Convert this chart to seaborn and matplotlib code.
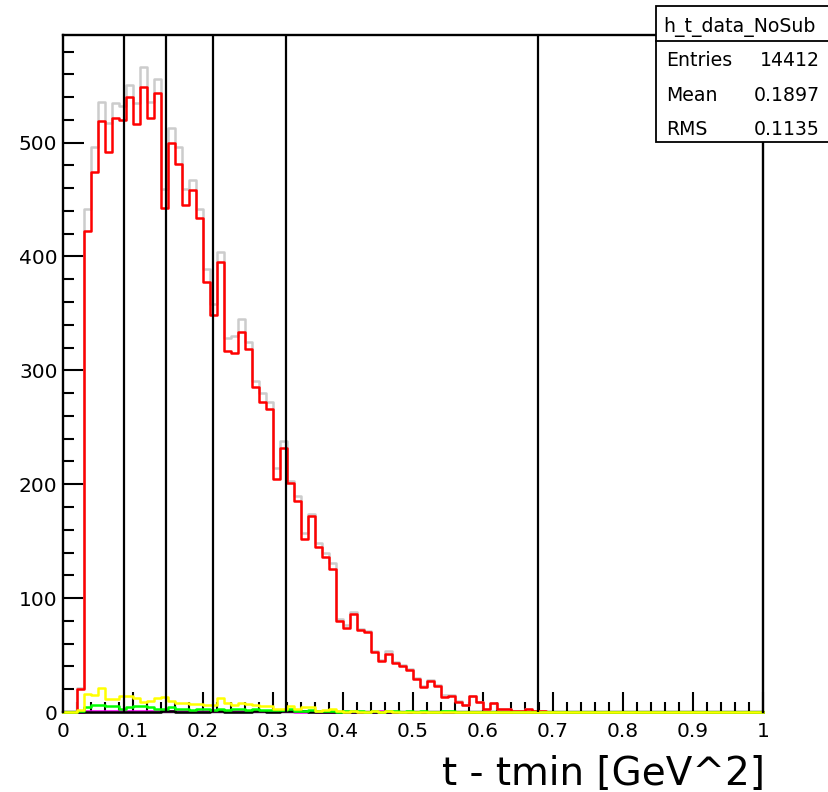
import numpy as np
import pandas as pd
import matplotlib
matplotlib.use("Agg")
import matplotlib.pyplot as plt
from matplotlib.ticker import MultipleLocator, FuncFormatter
from matplotlib.patches import Rectangle
from matplotlib.lines import Line2D
import seaborn as sns

# ---------------- data (100 bins of width 0.01 on [0, 1]) ----------------
bin_edges = [round(v, 2) for v in np.linspace(0.0, 1.0, 101)]
bin_centers = [e + 0.005 for e in bin_edges[:-1]]

data_total = [  # light grey
    0, 0, 21, 442, 496, 536, 517, 535, 532, 551,
    535, 566, 536, 556, 459, 513, 496, 459, 467, 442,
    389, 358, 404, 328, 330, 345, 325, 291, 280, 272,
    214, 238, 203, 190, 157, 174, 148, 140, 131, 82,
    76, 88, 73, 71, 54, 46, 54, 44, 41, 38,
    30, 23, 28, 24, 15, 15, 10, 6, 14, 9,
    3, 8, 3, 3, 1, 1, 3, 1, 1, 0,
    0, 0, 0, 0, 0, 0, 0, 0, 0, 0,
    0, 0, 0, 0, 0, 0, 0, 0, 0, 0,
    0, 0, 0, 0, 0, 0, 0, 0, 0, 0,
]
data_nosub = [  # red
    0, 0, 20, 422, 474, 519, 492, 522, 520, 540,
    516, 549, 522, 544, 443, 500, 481, 445, 458, 434,
    378, 349, 395, 317, 315, 334, 319, 285, 272, 266,
    205, 232, 201, 185, 152, 172, 145, 136, 126, 80,
    74, 86, 72, 70, 53, 45, 51, 43, 40, 37,
    29, 22, 27, 23, 13, 14, 9, 6, 14, 9,
    3, 8, 3, 3, 1, 1, 3, 1, 1, 0,
    0, 0, 0, 0, 0, 0, 0, 0, 0, 0,
    0, 0, 0, 0, 0, 0, 0, 0, 0, 0,
    0, 0, 0, 0, 0, 0, 0, 0, 0, 0,
]
bkg_magenta = [
    0, 0, 0, 1, 1, 1, 1, 1, 1, 1,
    1, 1, 1, 1, 1, 1, 1, 1, 1, 1,
    1, 1, 1, 1, 1, 1, 1, 1, 1, 1,
    1, 1, 1, 0, 0, 1, 0, 0, 0, 0,
    0, 0, 0, 0, 0, 1, 0, 0, 0, 0,
    0, 0, 0, 0, 0, 0, 0, 0, 0, 0,
    0, 0, 0, 0, 0, 0, 0, 0, 0, 0,
    0, 0, 0, 0, 0, 0, 0, 0, 0, 0,
    0, 0, 0, 0, 0, 0, 0, 0, 0, 0,
    0, 0, 0, 0, 0, 0, 0, 0, 0, 0,
]
bkg_black = [
    0, 0, 0, 0, 0, 0, 0, 0, 0, 0,
    0, 0, 0, 0, 1, 1, 0, 0, 0, 0,
    0, 1, 1, 0, 0, 0, 0, 1, 1, 0,
    0, 1, 1, 1, 1, 0, 0, 0, 0, 0,
    0, 0, 0, 0, 0, 0, 0, 0, 0, 0,
    0, 0, 0, 0, 0, 0, 0, 0, 0, 0,
    0, 0, 0, 0, 0, 0, 0, 0, 0, 0,
    0, 0, 0, 0, 0, 0, 0, 0, 0, 0,
    0, 0, 0, 0, 0, 0, 0, 0, 0, 0,
    0, 0, 0, 0, 0, 0, 0, 0, 0, 0,
]
bkg_green = [
    0, 0, 1, 4, 6, 6, 5, 5, 3, 4,
    5, 5, 4, 3, 3, 4, 3, 3, 2, 3,
    3, 2, 3, 2, 3, 3, 2, 3, 2, 2,
    2, 2, 3, 1, 1, 2, 1, 1, 1, 0,
    1, 1, 1, 0, 1, 0, 1, 1, 0, 1,
    0, 1, 0, 0, 1, 1, 0, 0, 0, 0,
    0, 0, 0, 0, 0, 0, 0, 0, 0, 0,
    0, 0, 0, 0, 0, 0, 0, 0, 0, 0,
    0, 0, 0, 0, 0, 0, 0, 0, 0, 0,
    0, 0, 0, 0, 0, 0, 0, 0, 0, 0,
]
bkg_yellow = [
    0, 0, 2, 16, 15, 21, 11, 11, 14, 14,
    12, 9, 10, 12, 13, 10, 8, 8, 7, 7,
    6, 6, 12, 8, 6, 8, 7, 6, 5, 5,
    3, 3, 5, 3, 4, 4, 1, 2, 3, 1,
    0, 1, 0, 0, 1, 0, 1, 0, 0, 0,
    0, 0, 0, 0, 0, 0, 0, 0, 0, 0,
    0, 0, 0, 0, 0, 0, 0, 0, 0, 0,
    0, 0, 0, 0, 0, 0, 0, 0, 0, 0,
    0, 0, 0, 0, 0, 0, 0, 0, 0, 0,
    0, 0, 0, 0, 0, 0, 0, 0, 0, 0,
]

cut_edges = [0.087, 0.147, 0.215, 0.318, 0.678]

x_ticks = [0, 0.1, 0.2, 0.3, 0.4, 0.5, 0.6, 0.7, 0.8, 0.9, 1]
y_ticks = [0, 100, 200, 300, 400, 500]

stats_title = "h_t_data_NoSub"
stats_rows = [("Entries", "14412"), ("Mean", "0.1897"), ("RMS", "0.1135")]
x_label = "t - tmin [GeV^2]"

# ---------------- figure ----------------
W, H = 829, 792
fig = plt.figure(figsize=(W / 100, H / 100), dpi=100)
fig.patch.set_facecolor("white")
ax = fig.add_axes([63 / W, 1 - 712 / H, 700 / W, 677 / H])

series = [
    (data_total, "#cccccc"),
    (data_nosub, "#ff0000"),
    (bkg_magenta, "#ff00ff"),
    (bkg_black, "#000000"),
    (bkg_green, "#00ff00"),
    (bkg_yellow, "#ffff00"),
]
for vals, col in series:
    df = pd.DataFrame({"t": bin_centers, "n": vals})
    sns.histplot(data=df, x="t", weights="n", bins=bin_edges, element="step",
                 fill=False, color=col, linewidth=1.8, clip_on=False, ax=ax)

for xc in cut_edges:
    ax.axvline(xc, color="black", linewidth=1.6, zorder=5)

ax.set_xlim(0, 1)
ax.set_ylim(0, 594.5)
ax.set_ylabel("")

ax.xaxis.set_minor_locator(MultipleLocator(0.02))
ax.yaxis.set_minor_locator(MultipleLocator(20))
ax.set_xticks(x_ticks)
ax.set_yticks(y_ticks)
ax.xaxis.set_major_formatter(FuncFormatter(lambda v, p: f"{v:g}"))
ax.yaxis.set_major_formatter(FuncFormatter(lambda v, p: f"{v:g}"))

ax.tick_params(axis="both", which="both", direction="in", top=False, right=False,
               width=1.5, color="black", labelcolor="black", labelsize=14.5)
ax.tick_params(axis="x", which="major", length=14.4, pad=7.5)
ax.tick_params(axis="x", which="minor", length=7.2)
ax.tick_params(axis="y", which="major", length=15.1, pad=4)
ax.tick_params(axis="y", which="minor", length=7.6)

for name, sp in ax.spines.items():
    sp.set_linewidth(1.7)
    sp.set_color("black")
    sp.set_zorder(1.5 if name == "bottom" else 6)

ax.set_xlabel(x_label, fontsize=28, loc="right")
ax.xaxis.set_label_coords(1.003, (712 - 785) / 677)
ax.xaxis.label.set_verticalalignment("baseline")

# ---------------- stats box ----------------
bx0, bx1 = 656 / W, 1.02
by_top, by_bot = 1 - 6 / H, 1 - 142 / H
fig.add_artist(Rectangle((bx0, by_bot), bx1 - bx0, by_top - by_bot,
                         transform=fig.transFigure, facecolor="white",
                         edgecolor="black", linewidth=1.3, zorder=10))
fig.add_artist(Line2D([bx0, bx1], [1 - 41 / H, 1 - 41 / H],
                      transform=fig.transFigure, color="black",
                      linewidth=1.3, zorder=11))
fig.text(739 / W, 1 - 32 / H, stats_title, ha="center", va="baseline",
         fontsize=13.6, zorder=12)
for i, (lab, val) in enumerate(stats_rows):
    yb = 1 - (66.5 + 34.3 * i) / H
    fig.text(666 / W, yb, lab, ha="left", va="baseline", fontsize=13.6, zorder=12)
    fig.text(820 / W, yb, val, ha="right", va="baseline", fontsize=13.6, zorder=12)

fig.savefig("out.png", dpi=100)
